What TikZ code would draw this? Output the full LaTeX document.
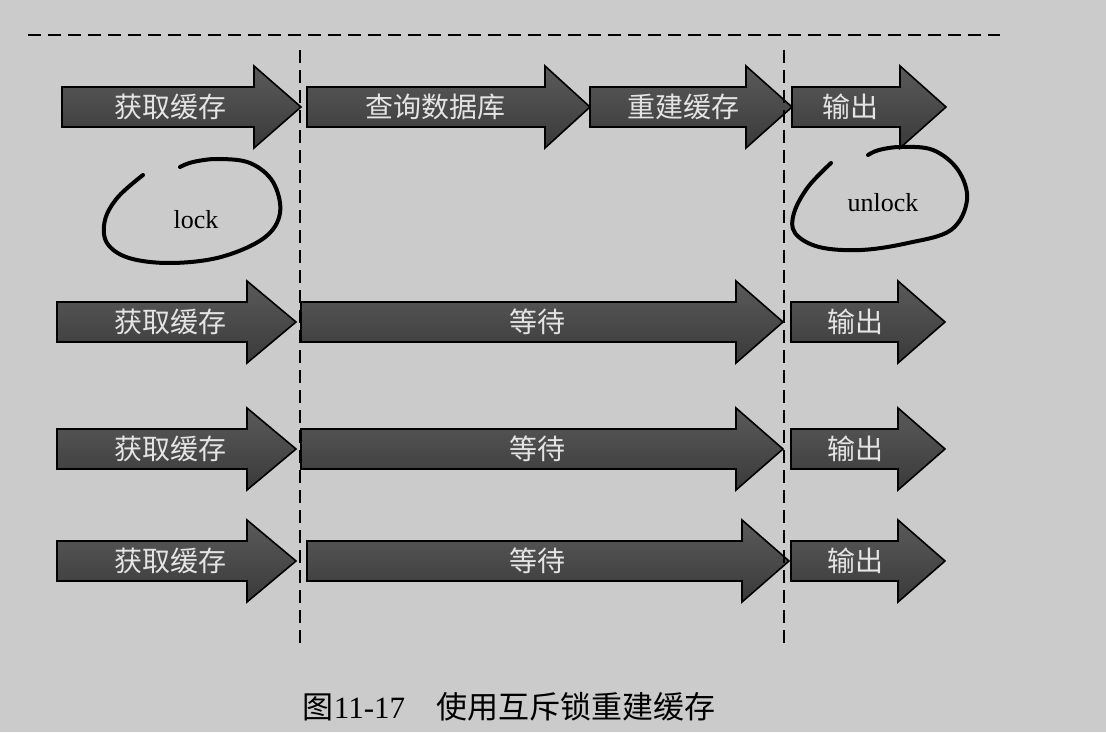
\documentclass[tikz,border=0pt]{standalone}
\usepackage{fontspec}
\setmainfont{Liberation Serif}
\newfontfamily\cjk{Noto Sans CJK SC}
\usepackage{tikz}
\usetikzlibrary{calc}
\definecolor{paper}{HTML}{CBCBCB}
\definecolor{arrowtop}{HTML}{5A5A5A}
\definecolor{arrowbot}{HTML}{3A3A3A}
\definecolor{labelgray}{HTML}{E4E4E4}
\tikzstyle{guide}=[line width=1.3pt, dash pattern=on 6.5pt off 3.5pt]
\tikzstyle{bigarrow}=[draw=black, line width=0.8pt, top color=arrowtop, bottom color=arrowbot, line join=miter]
\tikzstyle{arrowlabel}=[text=labelgray, font=\cjk\fontsize{14}{16}\selectfont, inner sep=0pt]
\tikzstyle{handloop}=[line width=2pt, line cap=round]
\tikzstyle{locklabel}=[font=\fontsize{13}{15}\selectfont, inner sep=0pt]
% name, tail x, head base x, tip x, middle y, label x, label
\newcommand{\stagearrow}[7]{%
  \draw[bigarrow] (#2,#5-20) -- (#3,#5-20) -- (#3,#5-41) -- (#4,#5) -- (#3,#5+41) -- (#3,#5+20) -- (#2,#5+20) -- cycle;
  \node[arrowlabel] (#1) at (#6,#5) {#7};
}

\begin{document}
\begin{tikzpicture}[x=0.5pt,y=-0.5pt]
  \fill[paper] (0,0) rectangle (1106,732);
  \useasboundingbox (0,0) rectangle (1106,732);

  % the thread that holds the lock
  \stagearrow{get1}{62}{254}{301}{107}{170}{获取缓存}
  \stagearrow{query}{307}{545}{590}{107}{435}{查询数据库}
  \stagearrow{rebuild}{590}{746}{792}{107}{683}{重建缓存}
  \stagearrow{out1}{792}{900}{946}{107}{850}{输出}

  % the waiting threads
  \foreach \r/\y/\wt/\wb/\wp in {2/322/301/736/783, 3/449/301/736/783, 4/561/307/742/789} {
    \stagearrow{get\r}{57}{247}{296}{\y}{170}{获取缓存}
    \stagearrow{wait\r}{\wt}{\wb}{\wp}{\y}{537}{等待}
    \stagearrow{out\r}{791}{898}{945}{\y}{855}{输出}
  }

  \draw[guide] (28,35) -- (1000,35);
  \draw[guide] (300,50) -- (300,645);
  \draw[guide] (784,50) -- (784,645);

  \draw[handloop] plot[smooth, tension=0.6] coordinates {(143,175) (118,197) (105,220) (107,243) (129,258) (171,263) (221,257) (264,238) (280,213) (273,182) (250,163) (218,159) (193,162) (180,167)};
  \node[locklabel] (lock) at (196,220) {lock};

  \draw[handloop] plot[smooth, tension=0.6] coordinates {(831,163) (808,187) (794,213) (795,233) (819,247) (861,250) (908,243) (951,230) (967,200) (958,170) (933,150) (901,147) (879,150) (868,155)};
  \node[locklabel] (unlock) at (883,203) {unlock};

  \node[font=\fontsize{15.5}{18}\selectfont, inner sep=0pt] (caption) at (509,707) {{\cjk 图}11-17\hspace{1em}{\cjk 使用互斥锁重建缓存}};
\end{tikzpicture}
\end{document}
